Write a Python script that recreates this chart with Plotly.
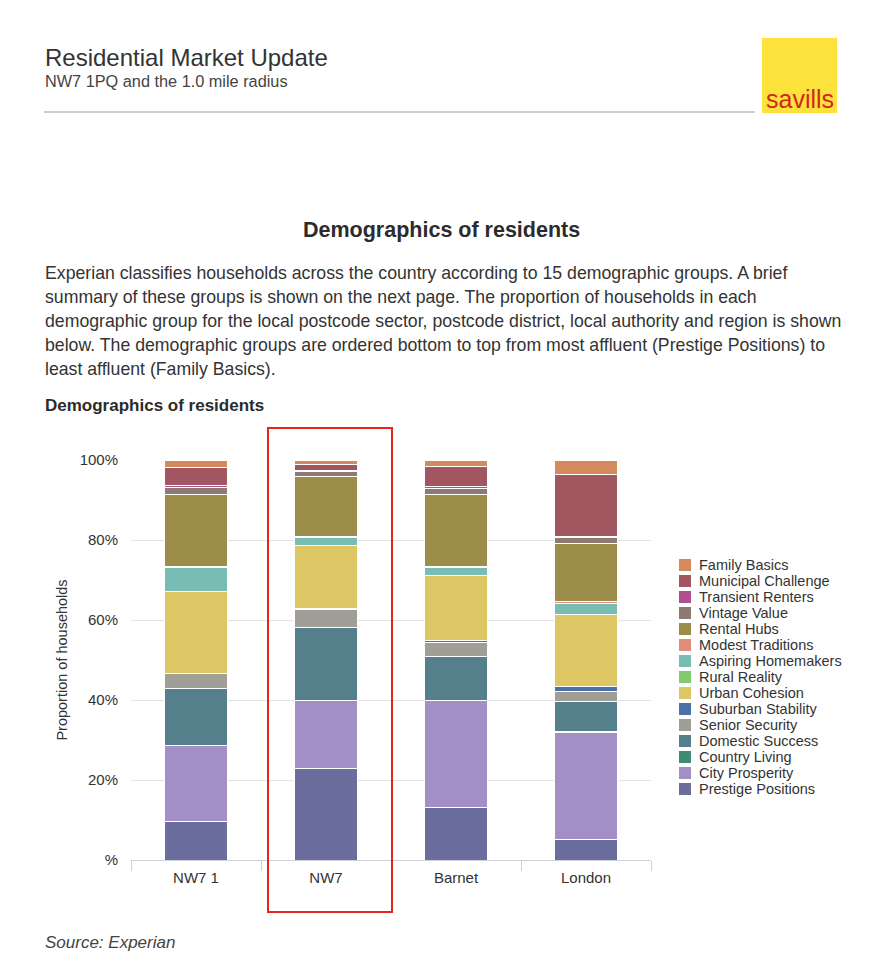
import plotly.graph_objects as go

categories = ["NW7 1", "NW7", "Barnet", "London"]

# bottom-to-top stacking order
groups = [
    "Prestige Positions", "City Prosperity", "Country Living", "Domestic Success",
    "Senior Security", "Suburban Stability", "Urban Cohesion", "Rural Reality",
    "Aspiring Homemakers", "Modest Traditions", "Rental Hubs", "Vintage Value",
    "Transient Renters", "Municipal Challenge", "Family Basics",
]

prestige_positions = [9.6, 23.0, 13.2, 5.2]
city_prosperity = [19.0, 17.0, 26.8, 26.8]
country_living = [0.0, 0.0, 0.0, 0.1]
domestic_success = [14.3, 18.1, 11.0, 7.5]
senior_security = [3.7, 4.5, 3.5, 2.5]
suburban_stability = [0.0, 0.4, 0.4, 1.2]
urban_cohesion = [20.5, 15.7, 16.2, 18.0]
rural_reality = [0.0, 0.0, 0.0, 0.0]
aspiring_homemakers = [6.0, 2.0, 2.0, 2.8]
modest_traditions = [0.2, 0.3, 0.3, 0.6]
rental_hubs = [18.2, 14.9, 18.0, 14.4]
vintage_value = [1.75, 1.2, 1.6, 1.5]
transient_renters = [0.3, 0.3, 0.3, 0.3]
municipal_challenge = [4.7, 1.5, 5.0, 15.5]
family_basics = [1.75, 1.0, 1.6, 3.6]

series = [
    prestige_positions, city_prosperity, country_living, domestic_success,
    senior_security, suburban_stability, urban_cohesion, rural_reality,
    aspiring_homemakers, modest_traditions, rental_hubs, vintage_value,
    transient_renters, municipal_challenge, family_basics,
]

colors = [
    "#6b6e9c", "#a38fc5", "#3f8b76", "#557f8a",
    "#a19e98", "#4a72a6", "#dcc764", "#82c96f",
    "#78bdb4", "#e08d7d", "#9c8d4b", "#8e7a72",
    "#b04f8f", "#a2565f", "#d58a5d",
]

y_tickvals = [0, 20, 40, 60, 80, 100]
y_ticktext = ["%", "20%", "40%", "60%", "80%", "100%"]

fig = go.Figure()
for name, vals, col in zip(groups, series, colors):
    fig.add_trace(go.Bar(
        x=categories, y=vals, name=name, showlegend=False,
        marker=dict(color=col, line=dict(color="#ffffff", width=1)),
    ))

OFF = 8  # default page body margin
W, H = 887 - 2 * OFF, 965 - 2 * OFF
# plot area in page pixels
L, R, T, B = 131, 651, 460, 860


def px(x):
    return (x - L) / (R - L)


def py(y):
    return (B - y) / (B - T)


FONT = "Liberation Sans, Arial, Helvetica, sans-serif"
TXT = "#333333"

annotations = []


def text(x, y, s, size, color=TXT, bold=False, italic=False, xanchor="left"):
    if bold:
        s = "<b>" + s + "</b>"
    if italic:
        s = "<i>" + s + "</i>"
    annotations.append(dict(
        x=px(x), y=py(y), xref="paper", yref="paper", text=s, showarrow=False,
        xanchor=xanchor, yanchor="middle", align="left",
        font=dict(family=FONT, size=size, color=color),
    ))


text(43, 57, "Residential Market Update", 24, color="#333333")
text(43, 81, "NW7 1PQ and the 1.0 mile radius", 16.3, color="#444444")
text(441, 230, "Demographics of residents", 21.5, color="#2b2b2b", bold=True, xanchor="center")

para = [
    "Experian classifies households across the country according to 15 demographic groups. A brief",
    "summary of these groups is shown on the next page. The proportion of households in each",
    "demographic group for the local postcode sector, postcode district, local authority and region is shown",
    "below. The demographic groups are ordered bottom to top from most affluent (Prestige Positions) to",
    "least affluent (Family Basics).",
]
for i, line in enumerate(para):
    text(43, 273 + 24 * i, line, 17.7)

text(43, 405, "Demographics of residents", 17, color="#2b2b2b", bold=True)
text(43, 942, "Source: Experian", 17, color="#444444", italic=True)
text(800, 99, "savills", 25, color="#d0281c", xanchor="center")

# savills logo, header rule and highlight box
shapes = [
    dict(type="rect", xref="paper", yref="paper", x0=px(762), x1=px(837),
         y0=py(38), y1=py(113), fillcolor="#fde23c", line=dict(width=0), layer="below"),
    dict(type="line", xref="paper", yref="paper", x0=px(44), x1=px(755),
         y0=py(112), y1=py(112), line=dict(color="#bdbdbd", width=1.5)),
    dict(type="rect", xref="paper", yref="paper", x0=px(268), x1=px(392),
         y0=py(428), y1=py(912), line=dict(color="#e8231d", width=2), fillcolor="rgba(0,0,0,0)"),
]

# legend (top to bottom: least to most affluent), 16 px rows
for i, (name, col) in enumerate(zip(groups[::-1], colors[::-1])):
    yc = 565 + 16 * i
    shapes.append(dict(type="rect", xref="paper", yref="paper",
                       x0=px(679), x1=px(691), y0=py(yc - 6), y1=py(yc + 6),
                       fillcolor=col, line=dict(width=0)))
    text(697, yc, name, 14.5)

fig.update_layout(
    width=W, height=H,
    margin=dict(l=L - OFF, r=W - (R - OFF), t=T - OFF, b=H - (B - OFF), pad=0),
    paper_bgcolor="white", plot_bgcolor="white",
    barmode="stack", bargap=0.52,
    font=dict(family=FONT, size=13, color=TXT),
    showlegend=False,
    annotations=annotations,
    shapes=shapes,
)

fig.update_xaxes(
    type="category", showgrid=False, showline=True, linecolor="#ccd1dc", linewidth=1,
    ticks="outside", tickson="boundaries", ticklen=10, tickcolor="#ccd1dc",
    ticklabelstandoff=4,
    tickfont=dict(family=FONT, size=15, color=TXT), fixedrange=True,
)
fig.update_yaxes(
    range=[0, 100], tickvals=y_tickvals, ticktext=y_ticktext,
    showgrid=True, gridcolor="#e3e3e3", gridwidth=1, zeroline=False,
    ticks="", ticklabelstandoff=12,
    tickfont=dict(family=FONT, size=15, color=TXT), fixedrange=True,
    title=dict(text="Proportion of households", font=dict(family=FONT, size=14.5, color=TXT), standoff=8),
)

fig.write_html("out.html")
